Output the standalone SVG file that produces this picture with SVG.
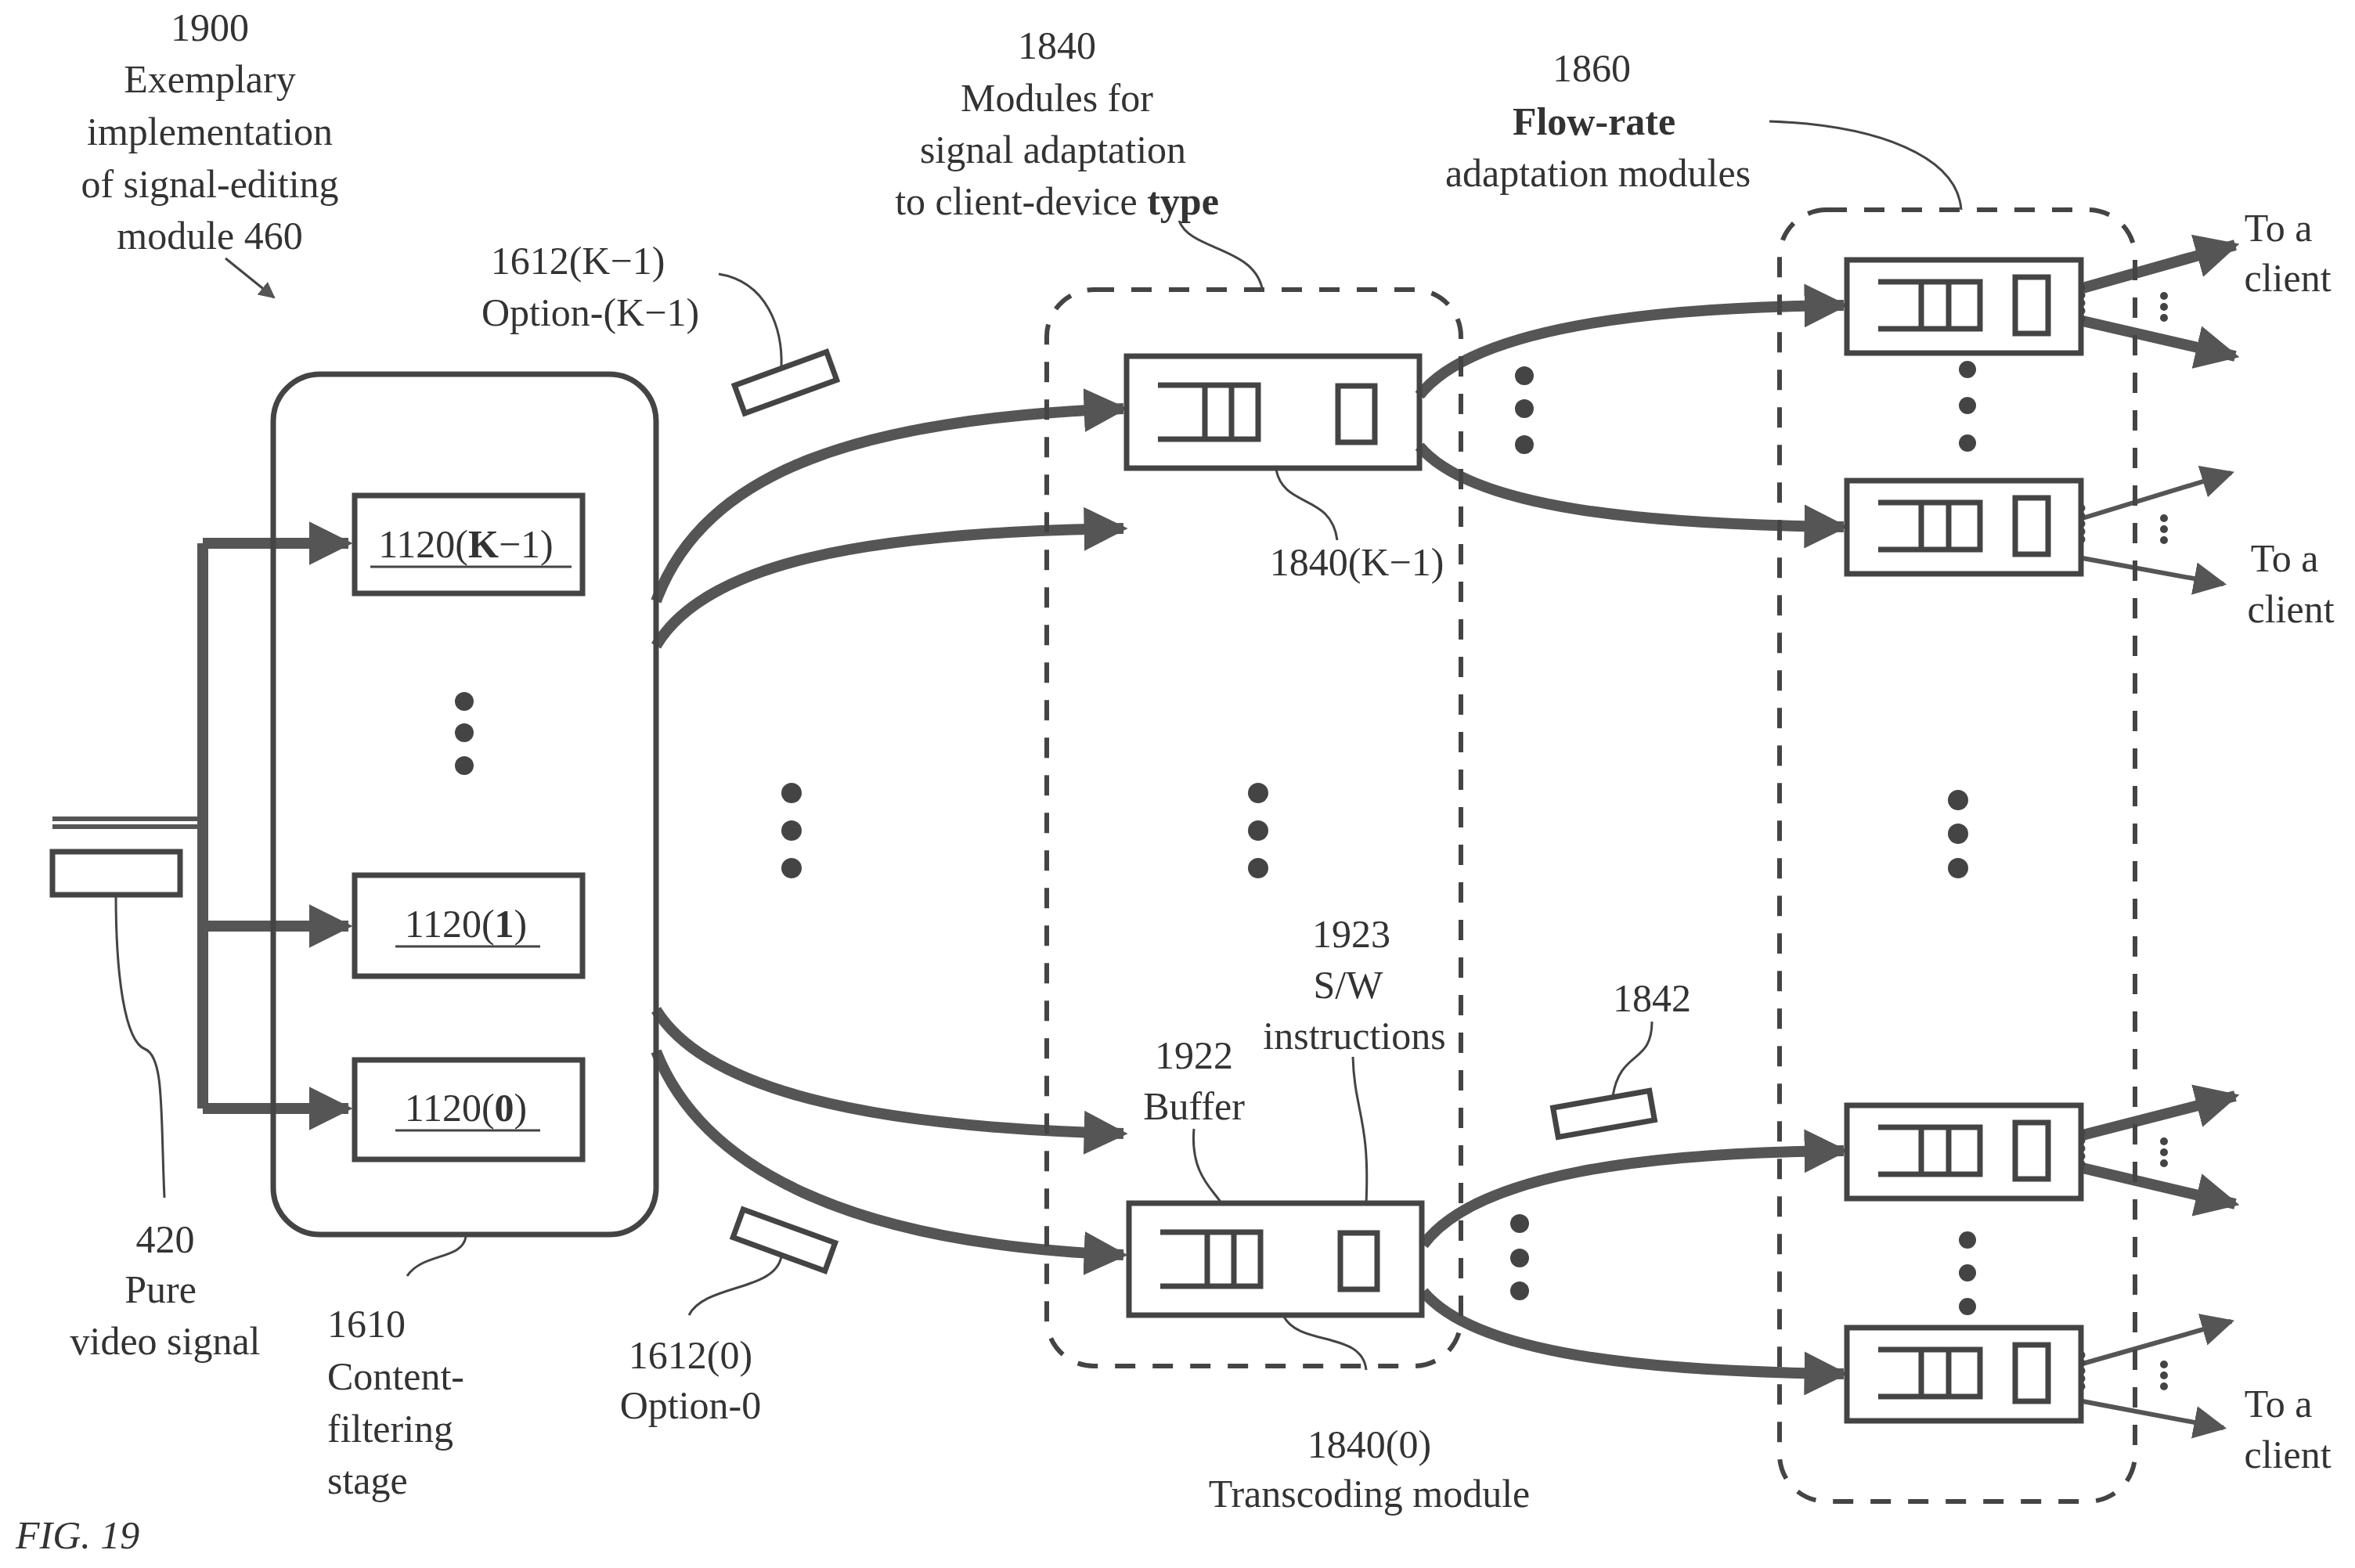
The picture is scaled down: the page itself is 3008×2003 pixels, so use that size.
<svg xmlns="http://www.w3.org/2000/svg" width="3008" height="2003" viewBox="0 0 3008 2003">
<defs>
<style>
text{font-family:"Liberation Serif",serif;font-size:50px;fill:#333;text-anchor:middle}
.b{fill:none;stroke:#444;stroke-width:7}
.dash{fill:none;stroke:#444;stroke-width:6;stroke-dasharray:26,22}
.thick{fill:none;stroke:#555;stroke-width:14}
.thin{fill:none;stroke:#555;stroke-width:6}
.lead{fill:none;stroke:#444;stroke-width:3}
.dot{fill:#444}
</style>
<marker id="ah" viewBox="0 0 10 10" refX="9" refY="5" markerWidth="4" markerHeight="4" orient="auto" markerUnits="strokeWidth"><path d="M0,0L10,5L0,10Z" fill="#555"/></marker>
<marker id="ahs" viewBox="0 0 10 10" refX="9" refY="5" markerWidth="7" markerHeight="7" orient="auto" markerUnits="strokeWidth"><path d="M0,0L10,5L0,10Z" fill="#555"/></marker>
<g id="tm">
<rect x="0" y="0" width="374" height="143" class="b"/>
<path d="M40,37H168V106H40M100,37V106M134,37V106" class="b"/>
<rect x="270" y="38" width="47" height="72" class="b"/>
</g>
<g id="fm">
<rect x="0" y="0" width="299" height="119" class="b"/>
<path d="M40,28H170V88H40M95,28V88M130,28V88" class="b"/>
<rect x="215" y="22" width="42" height="72" class="b"/>
<path d="M299,30q8,5 0,10q8,5 0,10q8,5 0,10q8,5 0,10q8,5 0,10" class="lead"/>
</g>
</defs>

<g id="title">
<text x="268" y="52">1900</text>
<text x="268" y="118">Exemplary</text>
<text x="268" y="185">implementation</text>
<text x="268" y="252">of signal-editing</text>
<text x="268" y="318">module 460</text>
<path d="M288,330L350,380" class="lead" marker-end="url(#ahs)"/>
</g>

<g id="connectors">
<path d="M67,1046H259M67,1056H259" class="thin"/>
<path d="M259,694V1416" class="thick"/>
<path d="M259,694H445" class="thick" marker-end="url(#ah)"/>
<path d="M259,1183H445" class="thick" marker-end="url(#ah)"/>
<path d="M259,1416H445" class="thick" marker-end="url(#ah)"/>
<path d="M838,768C900,600 1100,535 1435,522" class="thick" marker-end="url(#ah)"/>
<path d="M838,825C900,720 1100,680 1435,675" class="thick" marker-end="url(#ah)"/>
<path d="M838,1290C900,1390 1100,1440 1435,1448" class="thick" marker-end="url(#ah)"/>
<path d="M838,1343C900,1500 1100,1590 1435,1603" class="thick" marker-end="url(#ah)"/>
<path d="M1813,505C1880,420 2100,392 2355,390" class="thick" marker-end="url(#ah)"/>
<path d="M1813,570C1880,650 2100,670 2355,673" class="thick" marker-end="url(#ah)"/>
<path d="M1818,1590C1885,1500 2100,1472 2355,1470" class="thick" marker-end="url(#ah)"/>
<path d="M1818,1650C1885,1730 2100,1752 2355,1755" class="thick" marker-end="url(#ah)"/>
<path d="M2660,368L2855,313" class="thick" marker-end="url(#ah)"/>
<path d="M2660,410L2855,455" class="thick" marker-end="url(#ah)"/>
<path d="M2660,662L2850,604" class="thin" marker-end="url(#ahs)"/>
<path d="M2660,713L2840,746" class="thin" marker-end="url(#ahs)"/>
<path d="M2660,1450L2855,1400" class="thick" marker-end="url(#ah)"/>
<path d="M2660,1492L2855,1538" class="thick" marker-end="url(#ah)"/>
<path d="M2660,1742L2850,1688" class="thin" marker-end="url(#ahs)"/>
<path d="M2660,1790L2840,1824" class="thin" marker-end="url(#ahs)"/>
</g>

<g id="cf1610">
<rect x="349" y="478" width="489" height="1099" rx="60" class="b"/>
<rect x="453" y="633" width="291" height="125" class="b"/>
<text x="595" y="712">1120(<tspan font-weight="bold">K</tspan>−1)</text>
<path d="M473,724H730" class="lead"/>
<rect x="453" y="1118" width="291" height="129" class="b"/>
<text x="595" y="1197">1120(<tspan font-weight="bold">1</tspan>)</text>
<path d="M505,1209H690" class="lead"/>
<rect x="453" y="1354" width="291" height="127" class="b"/>
<text x="595" y="1432">1120(<tspan font-weight="bold">0</tspan>)</text>
<path d="M505,1444H690" class="lead"/>
<circle cx="593" cy="896" r="12" class="dot"/><circle cx="593" cy="936" r="12" class="dot"/><circle cx="593" cy="978" r="12" class="dot"/>
</g>

<g id="mid-dots">
<circle cx="1011" cy="1013" r="13" class="dot"/><circle cx="1011" cy="1061" r="13" class="dot"/><circle cx="1011" cy="1109" r="13" class="dot"/>
<circle cx="1607" cy="1013" r="13" class="dot"/><circle cx="1607" cy="1061" r="13" class="dot"/><circle cx="1607" cy="1109" r="13" class="dot"/>
<circle cx="1947" cy="480" r="12" class="dot"/><circle cx="1947" cy="522" r="12" class="dot"/><circle cx="1947" cy="568" r="12" class="dot"/>
<circle cx="1941" cy="1563" r="12" class="dot"/><circle cx="1941" cy="1607" r="12" class="dot"/><circle cx="1941" cy="1649" r="12" class="dot"/>
<circle cx="2513" cy="472" r="11" class="dot"/><circle cx="2513" cy="518" r="11" class="dot"/><circle cx="2513" cy="566" r="11" class="dot"/>
<circle cx="2513" cy="1584" r="11" class="dot"/><circle cx="2513" cy="1626" r="11" class="dot"/><circle cx="2513" cy="1669" r="11" class="dot"/>
<circle cx="2501" cy="1022" r="13" class="dot"/><circle cx="2501" cy="1065" r="13" class="dot"/><circle cx="2501" cy="1109" r="13" class="dot"/>
<g class="dot"><circle cx="2764" cy="378" r="5"/><circle cx="2764" cy="392" r="5"/><circle cx="2764" cy="406" r="5"/>
<circle cx="2764" cy="662" r="5"/><circle cx="2764" cy="676" r="5"/><circle cx="2764" cy="690" r="5"/>
<circle cx="2764" cy="1458" r="5"/><circle cx="2764" cy="1472" r="5"/><circle cx="2764" cy="1486" r="5"/>
<circle cx="2764" cy="1743" r="5"/><circle cx="2764" cy="1757" r="5"/><circle cx="2764" cy="1771" r="5"/></g>
</g>

<g id="g1840">
<rect x="1337" y="370" width="529" height="1375" rx="60" class="dash"/>
<use href="#tm" x="1439" y="455"/>
<use href="#tm" x="1442" y="1537"/>
</g>

<g id="g1860">
<rect x="2273" y="268" width="454" height="1650" rx="60" class="dash"/>
<use href="#fm" x="2359" y="332"/>
<use href="#fm" x="2359" y="614"/>
<use href="#fm" x="2359" y="1412"/>
<use href="#fm" x="2359" y="1696"/>
</g>

<g id="input420">
<rect x="67" y="1088" width="163" height="55" class="b"/>
<path d="M148,1143C148,1250 160,1330 185,1340C210,1350 205,1420 210,1530" class="lead"/>
<text x="211" y="1600">420</text>
<text x="205" y="1664">Pure</text>
<text x="211" y="1730">video signal</text>
</g>

<g id="label1610">
<path d="M595,1580C590,1610 540,1600 520,1630" class="lead"/>
<text x="418" y="1708" style="text-anchor:start">1610</text>
<text x="418" y="1775" style="text-anchor:start">Content-</text>
<text x="418" y="1842" style="text-anchor:start">filtering</text>
<text x="418" y="1908" style="text-anchor:start">stage</text>
</g>

<g id="opt">
<text x="738" y="350">1612(K−1)</text>
<text x="754" y="416">Option-(K−1)</text>
<path d="M918,350C980,360 1000,420 998,470" class="lead"/>
<rect x="941" y="470" width="125" height="38" transform="rotate(-20 1003 489)" class="b"/>
<rect x="939" y="1565" width="125" height="38" transform="rotate(20 1001 1584)" class="b"/>
<path d="M998,1605C990,1650 900,1640 880,1680" class="lead"/>
<text x="882" y="1748">1612(0)</text>
<text x="882" y="1812">Option-0</text>
</g>

<g id="label1840">
<text x="1350" y="75">1840</text>
<text x="1350" y="142">Modules for</text>
<text x="1345" y="208">signal adaptation</text>
<text x="1350" y="274">to client-device <tspan font-weight="bold">type</tspan></text>
<path d="M1506,282C1520,320 1600,315 1612,368" class="lead"/>
<text x="1733" y="735">1840(K−1)</text>
<path d="M1630,600C1640,650 1700,630 1708,690" class="lead"/>
<text x="1726" y="1210">1923</text>
<text x="1722" y="1275">S/W</text>
<text x="1730" y="1340">instructions</text>
<path d="M1728,1350C1730,1420 1750,1430 1745,1537" class="lead"/>
<text x="1525" y="1365">1922</text>
<text x="1525" y="1430">Buffer</text>
<path d="M1525,1442C1520,1500 1550,1520 1560,1537" class="lead"/>
<path d="M1640,1682C1660,1720 1740,1700 1745,1750" class="lead"/>
<text x="1749" y="1862">1840(0)</text>
<text x="1749" y="1925">Transcoding module</text>
</g>

<g id="label1860">
<text x="2033" y="104">1860</text>
<text x="2036" y="172" font-weight="bold">Flow-rate</text>
<text x="2041" y="238">adaptation modules</text>
<path d="M2260,155C2400,160 2500,200 2505,268" class="lead"/>
<text x="2110" y="1292">1842</text>
<path d="M2110,1305C2110,1360 2070,1340 2060,1400" class="lead"/>
<rect x="1986" y="1404" width="125" height="38" transform="rotate(-10 2048 1423)" class="b"/>
</g>

<g id="clients">
<text x="2910" y="308">To a</text>
<text x="2922" y="372">client</text>
<text x="2918" y="730">To a</text>
<text x="2926" y="795">client</text>
<text x="2910" y="1810">To a</text>
<text x="2922" y="1875">client</text>
</g>

<text x="20" y="1978" style="text-anchor:start;font-style:italic">FIG. 19</text>
</svg>
